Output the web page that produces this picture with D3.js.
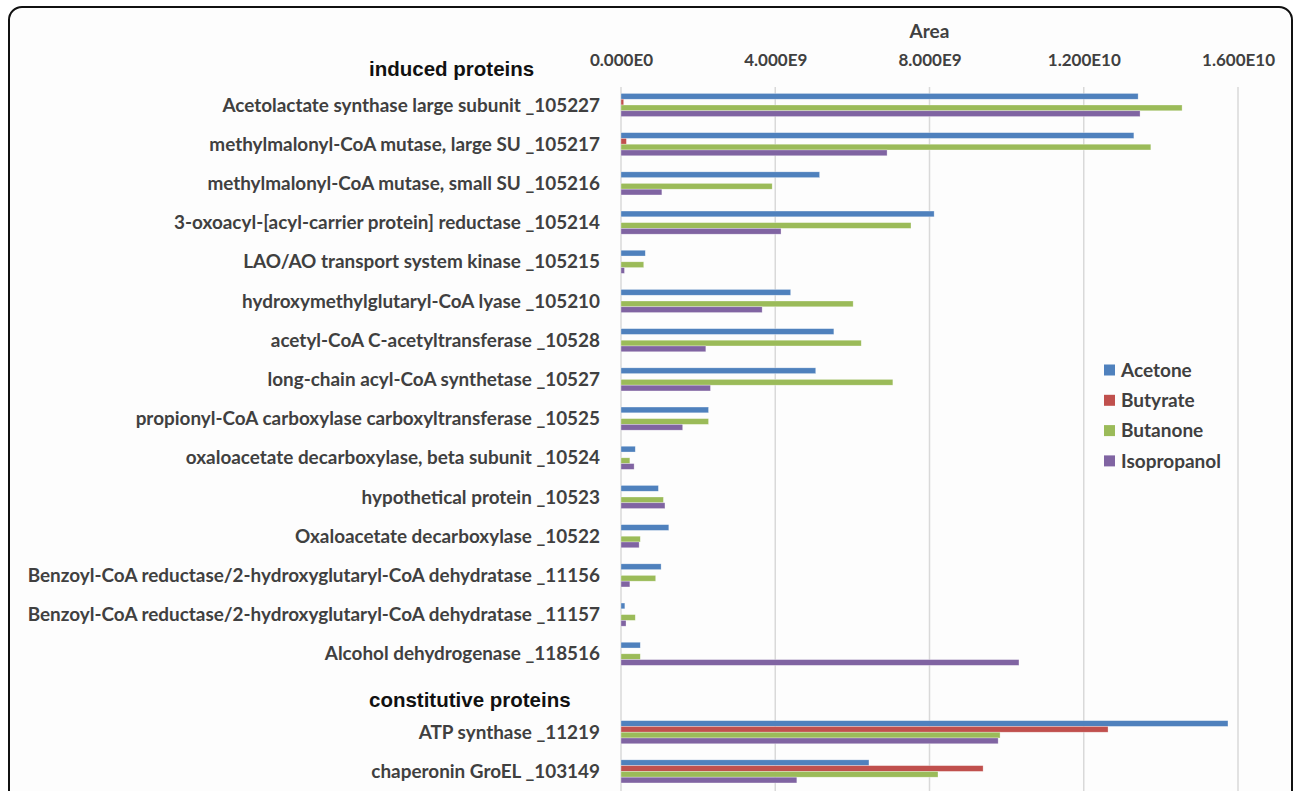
<!DOCTYPE html>
<html>
<head>
<meta charset="utf-8">
<script src="https://cdn.jsdelivr.net/npm/d3@7"></script>
<style>
  html, body { margin: 0; padding: 0; background: #ffffff; }
  svg { display: block; }
</style>
</head>
<body>
<svg id="chart" width="1295" height="791"></svg>
<script>
// ---- data ----
const categories = [
  "Acetolactate synthase large subunit _105227",
  "methylmalonyl-CoA mutase, large SU _105217",
  "methylmalonyl-CoA mutase, small SU _105216",
  "3-oxoacyl-[acyl-carrier protein] reductase _105214",
  "LAO/AO transport system kinase _105215",
  "hydroxymethylglutaryl-CoA lyase _105210",
  "acetyl-CoA C-acetyltransferase _10528",
  "long-chain acyl-CoA synthetase _10527",
  "propionyl-CoA carboxylase carboxyltransferase _10525",
  "oxaloacetate decarboxylase, beta subunit _10524",
  "hypothetical protein _10523",
  "Oxaloacetate decarboxylase _10522",
  "Benzoyl-CoA reductase/2-hydroxyglutaryl-CoA dehydratase _11156",
  "Benzoyl-CoA reductase/2-hydroxyglutaryl-CoA dehydratase _11157",
  "Alcohol dehydrogenase _118516",
  "",
  "ATP synthase _11219",
  "chaperonin GroEL _103149"
];
const groupHeaders = ["induced proteins", "constitutive proteins"];
const seriesNames = ["Acetone", "Butyrate", "Butanone", "Isopropanol"];
// values in units of 1e9 (Area)
const acetone     = [13.41, 13.30, 5.15, 8.12, 0.63, 4.40, 5.52, 5.05, 2.27, 0.37, 0.97, 1.24, 1.04, 0.10, 0.50, null, 15.74, 6.43];
const butyrate    = [0.07, 0.14, 0, 0, 0, 0, 0, 0, 0, 0, 0, 0, 0, 0, 0, null, 12.63, 9.39];
const butanone    = [14.55, 13.74, 3.92, 7.52, 0.59, 6.02, 6.23, 7.05, 2.27, 0.23, 1.10, 0.50, 0.90, 0.37, 0.50, null, 9.83, 8.22];
const isopropanol = [13.46, 6.90, 1.06, 4.15, 0.09, 3.66, 2.20, 2.32, 1.60, 0.34, 1.14, 0.47, 0.23, 0.13, 10.32, null, 9.78, 4.56];
const tickValues = [0, 4e9, 8e9, 1.2e10, 1.6e10];
const tickLabels = ["0.000E0", "4.000E9", "8.000E9", "1.200E10", "1.600E10"];
const axisTitle = "Area";

const seriesData = [acetone, butyrate, butanone, isopropanol];
const colors = ["#4F81BD", "#C0504D", "#9BBB59", "#8064A2"];

// ---- layout ----
const svg = d3.select("#chart");
const plotLeft = 621, plotRight = 1238;
const plotTop = 85.4, step = 39.2;
const plotBottom = plotTop + step * categories.length;
const labelFont = "Lato, 'Open Sans', sans-serif";

// frame
svg.append("rect")
  .attr("x", 9).attr("y", 7)
  .attr("width", 1283).attr("height", 820)
  .attr("rx", 13).attr("ry", 13)
  .attr("fill", "#fdfdfd")
  .attr("stroke", "#111").attr("stroke-width", 2);

const x = d3.scaleLinear().domain([0, 1.6e10]).range([plotLeft, plotRight]);
const y0 = d3.scaleBand().domain(d3.range(categories.length))
  .range([plotTop, plotBottom]).paddingInner(0.41).paddingOuter(0.205);
const y1 = d3.scaleBand().domain(d3.range(seriesNames.length))
  .range([0, y0.bandwidth()]).padding(0);

// gridlines
svg.append("g")
  .selectAll("line")
  .data(tickValues)
  .join("line")
  .attr("x1", d => x(d)).attr("x2", d => x(d))
  .attr("y1", 87).attr("y2", 791)
  .attr("stroke", "#d9d9d9").attr("stroke-width", 1.5);

// top axis
const axis = d3.axisTop(x)
  .tickValues(tickValues)
  .tickFormat((d, i) => tickLabels[i])
  .tickSize(0).tickPadding(0);
const gAxis = svg.append("g").attr("transform", `translate(0,${66})`).call(axis);
gAxis.select(".domain").remove();
gAxis.selectAll("text")
  .attr("dy", 0)
  .attr("fill", "#404040")
  .style("font-family", labelFont)
  .style("font-weight", "bold")
  .style("font-size", "17px");

svg.append("text")
  .attr("x", x(8e9)).attr("y", 38)
  .attr("text-anchor", "middle")
  .attr("fill", "#404040")
  .style("font-family", labelFont)
  .style("font-weight", "bold")
  .style("font-size", "19px")
  .text(axisTitle);

// category labels
svg.append("g")
  .selectAll("text")
  .data(categories)
  .join("text")
  .attr("x", 600)
  .attr("y", (d, i) => y0(i) + y0.bandwidth() / 2)
  .attr("dy", "0.35em")
  .attr("text-anchor", "end")
  .attr("fill", "#404040")
  .style("font-family", labelFont)
  .style("font-weight", "bold")
  .style("font-size", "18.9px")
  .text(d => d);

// group headers
svg.append("text")
  .attr("x", 369).attr("y", 76)
  .attr("fill", "#111")
  .style("font-family", "'Liberation Sans', Arial, sans-serif")
  .style("font-weight", "bold")
  .style("font-size", "20.5px")
  .text(groupHeaders[0]);
svg.append("text")
  .attr("x", 369).attr("y", 707)
  .attr("fill", "#111")
  .style("font-family", "'Liberation Sans', Arial, sans-serif")
  .style("font-weight", "bold")
  .style("font-size", "20.5px")
  .text(groupHeaders[1]);

// bars
const gBars = svg.append("g");
seriesData.forEach((vals, s) => {
  gBars.append("g")
    .selectAll("rect")
    .data(vals.map((v, i) => ({ v, i })).filter(d => d.v !== null && d.v > 0))
    .join("rect")
    .attr("x", x(0))
    .attr("y", d => y0(d.i) + y1(s))
    .attr("width", d => x(d.v * 1e9) - x(0))
    .attr("height", y1.bandwidth())
    .attr("fill", colors[s])
    .attr("stroke", "#ffffff").attr("stroke-opacity", 0.5).attr("stroke-width", 0.6);
});

// legend
const legend = svg.append("g");
seriesNames.forEach((name, i) => {
  const cy = 370 + i * 30.3;
  legend.append("rect")
    .attr("x", 1104).attr("y", cy - 5.5)
    .attr("width", 11).attr("height", 11)
    .attr("fill", colors[i]);
  legend.append("text")
    .attr("x", 1121).attr("y", cy)
    .attr("dy", "0.35em")
    .attr("fill", "#404040")
    .style("font-family", labelFont)
    .style("font-weight", "bold")
    .style("font-size", "19px")
    .text(name);
});
</script>
</body>
</html>
